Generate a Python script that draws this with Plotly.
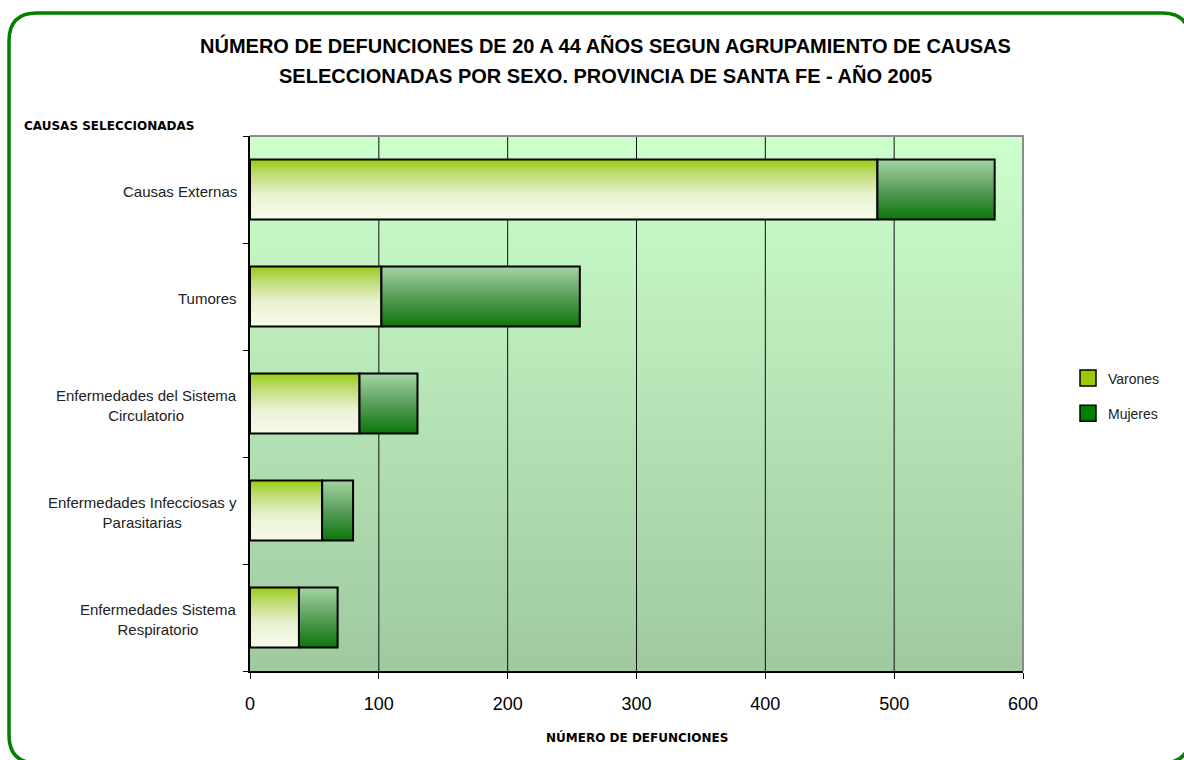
import plotly.graph_objects as go

categories = ["Causas Externas", "Tumores", "Enfermedades del Sistema<br>Circulatorio",
              "Enfermedades Infecciosas y<br>Parasitarias", "Enfermedades Sistema<br>Respiratorio"]
varones = [487, 102, 85, 56, 38]
mujeres = [91, 154, 45, 24, 30]
x_ticks = [0, 100, 200, 300, 400, 500, 600]

W, H = 1184, 760
L, R, T, B = 250, 161, 136, 89
PW, PH = W - L - R, H - T - B
FONT = "Liberation Sans"

n = len(categories)
ypos = [n - 1 - i for i in range(n)]
bw = 0.56
ymin, ymax = -0.5, n - 0.5
xmin, xmax = x_ticks[0], x_ticks[-1]

def px2paper(px, py):
    return (px - L) / PW, (H - B - py) / PH

fig = go.Figure()

# plot background gradient
fig.add_trace(go.Scatter(
    x=[xmin, xmax, xmax, xmin, xmin], y=[ymin, ymin, ymax, ymax, ymin],
    mode="lines", line=dict(width=0), fill="toself",
    fillgradient=dict(type="vertical", start=ymin, stop=ymax,
                      colorscale=[[0, "#a0c9a0"], [1, "#ccffcc"]]),
    showlegend=False, hoverinfo="skip"))

# grid lines
for xv in x_ticks[1:-1]:
    fig.add_trace(go.Scatter(x=[xv, xv], y=[ymin, ymax], mode="lines",
                             line=dict(color="#111111", width=1),
                             showlegend=False, hoverinfo="skip"))

var_scale = [[0, "#f7fbea"], [0.4, "#eaf2d2"], [0.75, "#c0dc78"], [1, "#99cc11"]]
muj_scale = [[0, "#0c760c"], [0.5, "#5a9e5a"], [1, "#a4d4a4"]]

for yc, v, m in zip(ypos, varones, mujeres):
    y0, y1 = yc - bw / 2, yc + bw / 2
    for xa, xb, sc, name in [(0, v, var_scale, "Varones"), (v, v + m, muj_scale, "Mujeres")]:
        fig.add_trace(go.Scatter(
            x=[xa, xb, xb, xa, xa], y=[y0, y0, y1, y1, y0],
            mode="lines", line=dict(color="black", width=2), fill="toself",
            fillgradient=dict(type="vertical", start=y0, stop=y1, colorscale=sc),
            showlegend=False, name=name, hoverinfo="name+x"))

# legend entries
for name, col, grp in [("Varones", "#99cc00", "a"), ("Mujeres", "#008000", "b")]:
    fig.add_trace(go.Scatter(x=[None], y=[None], mode="markers", name=name, legendgroup=grp,
                             marker=dict(symbol="square", size=16, color=col,
                                         line=dict(color="black", width=1.5))))

annotations = []
tx, _ = px2paper(605, 0)
for txt, py in [("NÚMERO DE DEFUNCIONES DE 20 A 44 AÑOS SEGUN AGRUPAMIENTO DE CAUSAS", 46),
                ("SELECCIONADAS POR SEXO. PROVINCIA DE SANTA FE - AÑO 2005", 76)]:
    _, ty = px2paper(0, py)
    annotations.append(dict(text="<b>%s</b>" % txt, x=tx, y=ty, xref="paper", yref="paper",
                            xanchor="center", yanchor="middle", showarrow=False,
                            font=dict(family=FONT, size=20, color="black")))

for cat, yc in zip(categories, ypos):
    annotations.append(dict(text=cat, x=0, y=yc, xref="paper", yref="y", xshift=-11, yshift=-2,
                            xanchor="right", yanchor="middle", align="center", showarrow=False,
                            font=dict(family=FONT, size=15, color="#222222")))

ax, ay = px2paper(22, 126)
annotations.append(dict(text="<b>CAUSAS SELECCIONADAS</b>", x=ax, y=ay, xref="paper", yref="paper",
                        xanchor="left", yanchor="middle", showarrow=False,
                        font=dict(family="DejaVu Sans", size=12, color="black")))
bx, by = px2paper(637, 737)
annotations.append(dict(text="<b>NÚMERO DE DEFUNCIONES</b>", x=bx, y=by, xref="paper", yref="paper",
                        xanchor="center", yanchor="middle", showarrow=False,
                        font=dict(family="DejaVu Sans", size=12, color="black")))

# rounded outer border
x0, y0, x1, y1, r = 9, 13, 1190, 763, 28
pts = [("M", [(x0 + r, y0)]), ("L", [(x1 - r, y0)]), ("Q", [(x1, y0), (x1, y0 + r)]),
       ("L", [(x1, y1 - r)]), ("Q", [(x1, y1), (x1 - r, y1)]), ("L", [(x0 + r, y1)]),
       ("Q", [(x0, y1), (x0, y1 - r)]), ("L", [(x0, y0 + r)]), ("Q", [(x0, y0), (x0 + r, y0)])]
path = ""
for cmd, ps in pts:
    path += cmd + " " + " ".join("%.5f,%.5f" % px2paper(a, b) for a, b in ps) + " "
path += "Z"

shapes = [
    dict(type="path", path=path, xref="paper", yref="paper",
         line=dict(color="#008000", width=3.5), fillcolor="rgba(0,0,0,0)", layer="above"),
    dict(type="path", path="M 0,1 L 1,1 L 1,0", xref="paper", yref="paper",
         line=dict(color="#8c8c8c", width=2), layer="above"),
]

fig.update_layout(
    width=W, height=H, margin=dict(l=L, r=R, t=T, b=B),
    paper_bgcolor="white", plot_bgcolor="rgba(0,0,0,0)",
    font=dict(family=FONT, color="black"),
    xaxis=dict(range=[xmin, xmax], tickvals=x_ticks, ticks="outside", ticklen=6,
               tickcolor="black", showgrid=False, zeroline=False, showline=True,
               ticklabelstandoff=10,
               linecolor="black", linewidth=1.5, tickfont=dict(family=FONT, size=18, color="black")),
    yaxis=dict(range=[ymin, ymax], tickvals=[k - 0.5 for k in range(n + 1)], ticks="outside",
               ticklen=5, tickcolor="black", showticklabels=False, showgrid=False,
               zeroline=False, showline=True, linecolor="black", linewidth=1.5),
    legend=dict(x=(1068 - L) / PW, y=(H - B - 396) / PH, xanchor="left", yanchor="middle",
                tracegroupgap=14, traceorder="grouped", font=dict(family=FONT, size=14, color="#222222"),
                bgcolor="rgba(0,0,0,0)"),
    annotations=annotations, shapes=shapes, showlegend=True,
)

fig.write_html("out.html", config={"displayModeBar": False},
               post_script="document.body.style.margin='0';document.body.style.overflow='hidden';")
